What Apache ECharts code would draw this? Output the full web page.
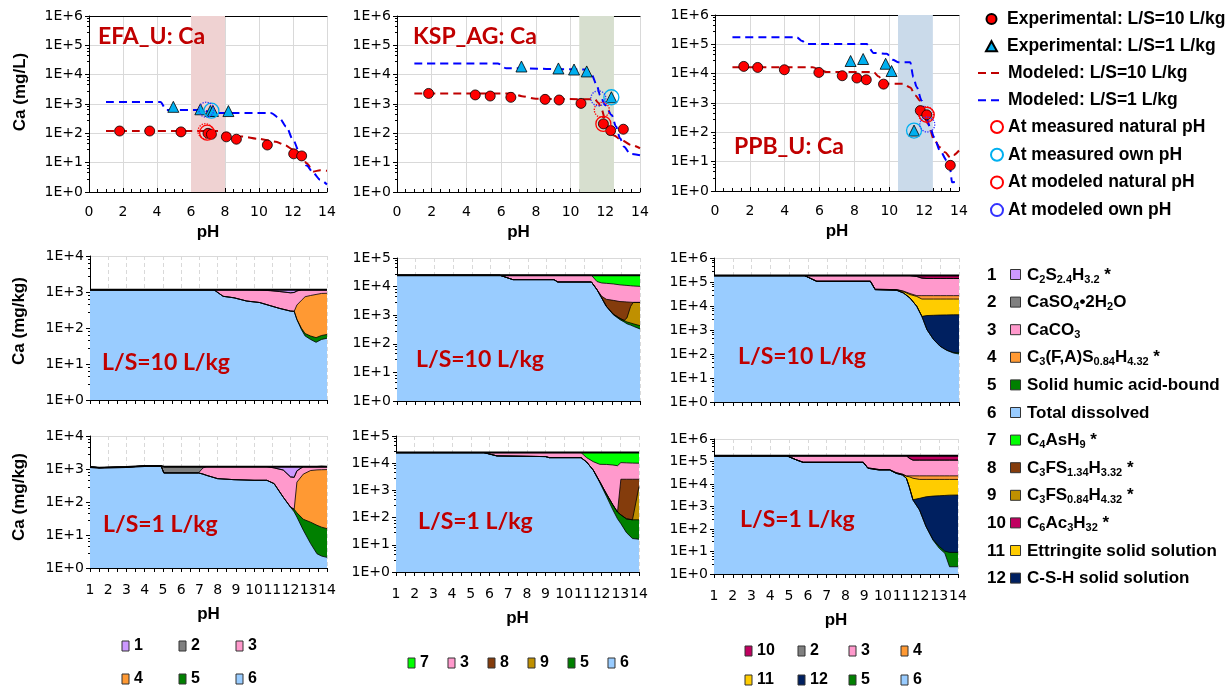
<!DOCTYPE html>
<html>
<head>
<meta charset="utf-8">
<script src="https://cdn.jsdelivr.net/npm/echarts@6/dist/echarts.min.js"></script>
<style>
  html, body { margin: 0; padding: 0; background: #ffffff; }
  #chart { width: 1230px; height: 687px; }
</style>
</head>
<body>
<div id="chart"></div>
<script>
// ---------- Leaching data: Ca concentration (mg/L) vs pH ----------
// EFA_U
const efaExp10pH = [1.8, 3.57, 5.41, 7.0, 7.2, 8.08, 8.67, 10.49, 12.04, 12.51];
const efaExp10Ca = [120, 120, 112, 100, 93, 76, 63, 40, 20, 17];
const efaExp1pH = [4.96, 6.55, 7.14, 7.29, 8.2];
const efaExp1Ca = [800, 660, 580, 580, 575];
const efaMod10pH = [1, 7.6, 8.0, 9.0, 10.0, 10.5, 11.0, 11.5, 12.0, 12.5, 12.8, 13.2, 13.6, 14];
const efaMod10Ca = [120, 120, 95, 78, 65, 58, 52, 40, 28, 20, 9.5, 5, 5.5, 5.3];
const efaMod1pH = [1, 4.2, 4.55, 6.6, 7.3, 10.7, 11.2, 11.6, 12.0, 12.4, 12.8, 13.2, 13.6, 14];
const efaMod1Ca = [1170, 1170, 630, 630, 490, 490, 330, 170, 60, 21, 8, 4.4, 2.6, 1.8];
// rings: measured natural, measured own, modeled natural, modeled own
const efaRingPH = [6.95, 7.2, 6.85, 6.9];
const efaRingCa = [105, 590, 118, 640];
const efaBand = [6, 8];

// KSP_AG
const kspExp10pH = [1.82, 4.51, 5.37, 6.56, 8.53, 9.34, 10.6, 11.89, 12.31, 13.04];
const kspExp10Ca = [2290, 2040, 1870, 1690, 1440, 1370, 1050, 210, 124, 138];
const kspExp1pH = [7.17, 9.3, 10.2, 10.93, 12.35];
const kspExp1Ca = [19000, 16300, 15000, 12900, 1700];
const kspMod10pH = [1, 6.6, 7.2, 8.0, 11.4, 11.6, 11.8, 12.0, 12.2, 12.5, 12.9, 13.5, 14];
const kspMod10Ca = [2300, 2300, 1850, 1500, 1450, 1100, 630, 280, 140, 85, 60, 40, 31];
const kspMod1pH = [1, 5.8, 6.3, 10.9, 11.22, 11.51, 11.7, 11.99, 12.37, 12.62, 12.85, 13.08, 13.43, 14];
const kspMod1Ca = [24000, 24000, 16500, 15000, 9800, 4400, 2000, 930, 420, 170, 68, 35, 20, 18];
const kspRingPH = [11.89, 12.35, 11.8, 11.6];
const kspRingCa = [210, 1700, 630, 1560];
const kspBand = [10.5, 12.5];

// PPB_U
const ppbExp10pH = [1.65, 2.45, 3.98, 5.96, 7.3, 8.14, 8.68, 9.67, 11.78, 12.15, 13.5];
const ppbExp10Ca = [17700, 16300, 13600, 11000, 8500, 7100, 6200, 4400, 550, 395, 7.5];
const ppbExp1pH = [7.78, 8.5, 9.79, 10.13, 11.42];
const ppbExp1Ca = [27000, 31600, 21800, 12300, 115];
const ppbMod10pH = [1, 5.6, 6.1, 6.4, 9.1, 9.4, 9.65, 10.8, 11.2, 11.5, 11.76, 11.95, 12.2, 12.6, 12.9, 13.2, 13.5, 13.7, 14];
const ppbMod10Ca = [16500, 16500, 12900, 11300, 11300, 8000, 4500, 4500, 3400, 1800, 1200, 420, 200, 52, 31, 21, 14, 17, 24];
const ppbMod1pH = [1, 4.7, 5.0, 5.25, 8.7, 9.1, 9.85, 10.2, 10.5, 11.2, 11.38, 11.57, 11.86, 12.1, 12.34, 12.57, 12.91, 13.3, 13.49, 13.6, 14];
const ppbMod1Ca = [173000, 173000, 130000, 102000, 102000, 51000, 48000, 30000, 24700, 24700, 7600, 3540, 1200, 370, 150, 68, 24, 11, 5.6, 2, 2.1];
const ppbRingPH = [12.15, 11.42, 12.1, 12.18];
const ppbRingCa = [395, 115, 420, 185];
const ppbBand = [10.5, 12.5];

// ---------- Modeled Ca speciation (mg/kg) vs pH, per phase ----------
// EFA_U, L/S=10
const efa10pH = [1, 4, 7.8, 8.3, 8.9, 9.6, 10.3, 10.9, 11.4, 12.0, 12.2, 12.35, 12.6, 12.8, 13.1, 13.4, 13.7, 14];
const efa10_s6 = [1150, 1150, 1150, 760, 690, 560, 510, 415, 350, 295, 290, 170, 90, 60, 48, 40, 48, 52];
const efa10_s5 = [0, 0, 0, 0, 0, 0, 0, 0, 0, 0, 0, 5, 8, 10, 12, 14, 14, 14];
const efa10_s4 = [0, 0, 0, 0, 0, 0, 0, 0, 0, 0, 0, 260, 490, 670, 740, 800, 850, 855];
const efa10_s3 = [0, 0, 0, 390, 460, 590, 620, 675, 680, 655, 680, 635, 562, 410, 350, 296, 238, 229];
const efa10_s2 = [0, 0, 0, 0, 0, 0, 0, 0, 0, 0, 0, 0, 0, 0, 0, 0, 0, 0];
const efa10_s1 = [0, 0, 0, 0, 0, 0, 20, 60, 120, 200, 180, 80, 0, 0, 0, 0, 0, 0];

// EFA_U, L/S=1
const efa1pH = [1, 1.5, 3, 4, 4.9, 5.05, 6.95, 7.2, 7.4, 8, 8.9, 10, 10.7, 11.1, 11.6, 12.0, 12.2, 12.35, 12.7, 13.1, 13.45, 13.7, 14];
const efa1_s6 = [1150, 1100, 1150, 1230, 1230, 760, 760, 700, 640, 510, 475, 455, 455, 360, 140, 70, 50, 35, 14, 5.5, 2.7, 2.3, 2.1];
const efa1_s5 = [0, 0, 0, 0, 0, 0, 0, 0, 0, 0, 0, 0, 0, 0, 0, 0, 10, 12, 16, 19, 17, 15, 13.5];
const efa1_s4 = [0, 0, 0, 0, 0, 0, 0, 0, 0, 0, 0, 0, 0, 0, 0, 0, 0, 353, 670, 875, 920, 933, 944];
const efa1_s3 = [0, 0, 0, 0, 0, 0, 0, 380, 540, 670, 705, 725, 725, 720, 790, 505, 500, 480, 480, 280, 240, 230, 220];
const efa1_s2 = [0, 0, 0, 0, 0, 420, 420, 100, 0, 0, 0, 0, 0, 0, 0, 0, 0, 0, 0, 0, 0, 0, 0];
const efa1_s1 = [0, 0, 0, 0, 0, 0, 0, 0, 0, 0, 0, 0, 0, 100, 250, 605, 620, 300, 0, 0, 0, 0, 0];

// KSP_AG, L/S=10
const ksp10pH = [1, 6.5, 7.2, 9.4, 9.6, 11.4, 11.7, 11.95, 12.2, 12.57, 12.93, 13.15, 13.3, 13.5, 13.64, 14];
const ksp10_s6 = [25000, 25000, 17500, 17500, 14500, 14500, 7800, 4000, 2040, 1040, 700, 580, 500, 450, 410, 330];
const ksp10_s5 = [0, 0, 0, 0, 0, 0, 0, 0, 0, 50, 70, 75, 80, 85, 90, 100];
const ksp10_s9 = [0, 0, 0, 0, 0, 0, 0, 0, 0, 0, 0, 0, 220, 1500, 2300, 2370];
const ksp10_s8 = [0, 0, 0, 0, 0, 0, 0, 600, 1560, 2210, 2230, 2295, 2100, 810, 0, 0];
const ksp10_s3 = [0, 0, 7500, 7500, 10500, 10500, 7200, 8800, 9400, 9100, 8500, 8250, 8100, 7850, 7700, 7400];
const ksp10_s7 = [0, 0, 0, 0, 0, 0, 10000, 11600, 12000, 12600, 13500, 13800, 14000, 14300, 14500, 14800];

// KSP_AG, L/S=1
const ksp1pH = [1, 5.7, 6.4, 9.0, 9.2, 10.9, 11.2, 11.55, 11.9, 12.26, 12.6, 12.85, 13.03, 13.33, 13.65, 14];
const ksp1_s6 = [24500, 24500, 18500, 17500, 16000, 16000, 11000, 5600, 1950, 600, 194, 90, 60, 28, 17, 16];
const ksp1_s5 = [0, 0, 0, 0, 0, 0, 0, 0, 150, 140, 100, 70, 66, 62, 66, 67];
const ksp1_s9 = [0, 0, 0, 0, 0, 0, 0, 0, 0, 0, 0, 0, 0, 0, 0, 1300];
const ksp1_s8 = [0, 0, 0, 0, 0, 0, 0, 0, 0, 0, 0, 0, 2444, 2480, 2487, 1190];
const ksp1_s3 = [0, 0, 6000, 7000, 8500, 8500, 5000, 5800, 7000, 8260, 8300, 7940, 7930, 7730, 7530, 7430];
const ksp1_s7 = [0, 0, 0, 0, 0, 0, 8500, 13100, 15400, 15500, 15900, 16400, 14000, 14200, 14400, 14500];

// PPB_U, L/S=10
const ppb10pH = [1, 5.8, 6.45, 9.3, 9.55, 10.7, 11.05, 11.4, 11.76, 12.03, 12.3, 12.65, 13.0, 13.35, 13.7, 14];
const ppb10_s6 = [185000, 185000, 107000, 107000, 48000, 45000, 35000, 21500, 9700, 3700, 1030, 400, 210, 142, 110, 100];
const ppb10_s5 = [0, 0, 0, 0, 0, 0, 0, 0, 0, 0, 0, 0, 0, 2, 6, 12];
const ppb10_s12 = [0, 0, 0, 0, 0, 0, 0, 0, 0, 0, 2970, 3700, 3990, 4106, 4184, 4188];
const ppb10_s11 = [0, 0, 0, 0, 2000, 3000, 5000, 8500, 15300, 15800, 15500, 15400, 15300, 15250, 15200, 15200];
const ppb10_s4 = [0, 0, 0, 0, 0, 0, 2000, 3000, 2000, 7500, 7500, 7500, 7500, 7500, 7500, 7500];
const ppb10_s3 = [0, 0, 78000, 78000, 135000, 137000, 143000, 152000, 143000, 118000, 113000, 113000, 113000, 113000, 113000, 113000];
const ppb10_s2 = [0, 0, 0, 0, 0, 0, 0, 0, 0, 0, 0, 0, 0, 0, 0, 0];
const ppb10_s10 = [0, 0, 0, 0, 0, 0, 0, 0, 15000, 40000, 45000, 45000, 45000, 45000, 45000, 45000];

// PPB_U, L/S=1
const ppb1pH = [1, 4.87, 5.4, 5.75, 8.95, 9.2, 9.8, 10.35, 10.7, 11.05, 11.25, 11.4, 11.6, 11.95, 12.3, 12.67, 13.0, 13.3, 13.55, 14];
const ppb1_s6 = [180000, 180000, 117000, 92000, 92000, 50000, 42000, 42000, 30000, 25000, 18000, 7600, 1940, 700, 127, 32, 14, 8.3, 2.1, 2.1];
const ppb1_s5 = [0, 0, 0, 0, 0, 0, 0, 0, 0, 0, 0, 0, 0, 0, 0, 2, 3, 2, 7, 7];
const ppb1_s12 = [0, 0, 0, 0, 0, 0, 0, 0, 0, 0, 0, 0, 60, 1600, 2570, 2866, 2983, 3090, 3190, 3230];
const ppb1_s11 = [0, 0, 0, 0, 0, 2000, 2000, 2000, 2000, 2000, 4000, 13400, 16000, 13700, 13300, 13100, 13000, 12900, 12800, 12760];
const ppb1_s4 = [0, 0, 0, 0, 0, 0, 0, 0, 0, 0, 1000, 2000, 5000, 7000, 7000, 7000, 7000, 7000, 7000, 7000];
const ppb1_s3 = [0, 0, 63000, 88000, 88000, 128000, 136000, 136000, 148000, 153000, 157000, 117000, 92000, 92000, 92000, 92000, 92000, 92000, 92000, 92000];
const ppb1_s2 = [0, 0, 0, 0, 0, 0, 0, 0, 0, 0, 0, 0, 0, 0, 0, 0, 0, 0, 0, 0];
const ppb1_s10 = [0, 0, 0, 0, 0, 0, 0, 0, 0, 0, 0, 40000, 65000, 65000, 65000, 65000, 65000, 65000, 65000, 65000];

// Ca phases (legend numbers, colours, formula labels with subscripts)
const phaseColors = {
  '1': '#CC99FF', '2': '#808080', '3': '#FF99CC', '4': '#FF9933',
  '5': '#008000', '6': '#99CCFF', '7': '#00FF00', '8': '#843C0C',
  '9': '#BF9000', '10': '#C00060', '11': '#FFCC00', '12': '#002060'
};
const phaseLabels = [
  'C{s|2}S{s|2.4}H{s|3.2} *',
  'CaSO{s|4}\u20222H{s|2}O',
  'CaCO{s|3}',
  'C{s|3}(F,A)S{s|0.84}H{s|4.32} *',
  'Solid humic acid-bound',
  'Total dissolved',
  'C{s|4}AsH{s|9} *',
  'C{s|3}FS{s|1.34}H{s|3.32} *',
  'C{s|3}FS{s|0.84}H{s|4.32} *',
  'C{s|6}Ac{s|3}H{s|32} *',
  'Ettringite solid solution',
  'C-S-H solid solution'
];

// ---------- helpers ----------
const TICK_FONT = 'DejaVu Sans';
const BOLD_FONT = 'Liberation Sans';
const TITLE_FONT = 'Lato';
const pairs = (xs, ys) => xs.map((x, i) => [x, ys[i]]);
const expLabel = v => '1E+' + Math.round(Math.log10(v));

const grids = [
  { left: 89, top: 16, width: 238, height: 176 },
  { left: 397, top: 16, width: 243, height: 176 },
  { left: 715, top: 15, width: 244, height: 176 },
  { left: 90, top: 256, width: 237, height: 144 },
  { left: 397, top: 258, width: 243, height: 143 },
  { left: 714, top: 258, width: 245, height: 144 },
  { left: 90, top: 436, width: 237, height: 132 },
  { left: 396, top: 436, width: 243, height: 136 },
  { left: 714, top: 439, width: 244, height: 135 }
];
const yMax = [1e6, 1e6, 1e6, 1e4, 1e5, 1e6, 1e4, 1e5, 1e6];

const xAxes = [];
const yAxes = [];
grids.forEach((g, i) => {
  const isTop = i < 3;
  const isBottom = i >= 6;
  xAxes.push({
    type: 'value', gridIndex: i,
    min: isTop ? 0 : 1, max: 14, interval: isTop ? 2 : 1,
    name: (isTop || isBottom) ? 'pH' : '',
    nameLocation: 'middle', nameGap: isTop ? 32 : 38,
    nameTextStyle: { fontFamily: BOLD_FONT, fontWeight: 'bold', fontSize: 17, color: '#000' },
    axisLine: { show: true, onZero: false, lineStyle: { color: '#000', width: 1 } },
    axisTick: { show: true, inside: isTop, length: 4, lineStyle: { color: '#000' } },
    minorTick: { show: true, splitNumber: isTop ? 4 : 2, length: isTop ? 3 : 4, lineStyle: { color: '#000' } },
    axisLabel: { show: isTop || isBottom, fontFamily: TICK_FONT, fontSize: 14, color: '#000', margin: isTop ? 13 : 15 },
    splitLine: { show: true, lineStyle: { color: '#D9D9D9', width: 1, type: isTop ? 'solid' : [4, 3] } }
  });
  yAxes.push({
    type: 'log', logBase: 10, gridIndex: i, min: 1, max: yMax[i],
    axisLine: { show: true, onZero: false, lineStyle: { color: '#000', width: 1 } },
    axisTick: { show: true, length: 4, lineStyle: { color: '#000' } },
    minorTick: { show: true, splitNumber: 5, length: 2, lineStyle: { color: '#000' } },
    axisLabel: { fontFamily: TICK_FONT, fontSize: 14, color: '#000', margin: 6, formatter: expLabel },
    splitLine: { show: true, lineStyle: { color: '#D9D9D9', width: 1 } }
  });
});
// top frame line of the leaching panels
[0, 1, 2].forEach(i => {
  xAxes.push({
    type: 'value', gridIndex: i, position: 'top', min: 0, max: 14,
    axisLine: { show: true, onZero: false, lineStyle: { color: '#000', width: 1 } },
    axisTick: { show: false }, axisLabel: { show: false }, splitLine: { show: false }
  });
});

const series = [];
const RING_NAMES = ['At measured natural pH', 'At measured own pH', 'At modeled natural pH', 'At modeled own pH'];
const RING_COLORS = ['#FF0000', '#00B0F0', '#FF0000', '#3333FF'];
const RING_TYPES = ['solid', 'solid', 'dotted', 'dotted'];

function leachPanel(gi, d) {
  series.push({
    type: 'line', name: 'Modeled: L/S=10 L/kg', xAxisIndex: gi, yAxisIndex: gi,
    data: pairs(d.m10pH, d.m10Ca), symbol: 'none', showSymbol: false,
    smooth: 0.3, smoothMonotone: 'x', z: 3,
    itemStyle: { color: '#C00000' },
    lineStyle: { color: '#C00000', width: 2, type: [8, 5] },
    markArea: {
      silent: true,
      itemStyle: { color: d.bandColor },
      data: [[{ xAxis: d.band[0] }, { xAxis: d.band[1] }]]
    }
  });
  series.push({
    type: 'line', name: 'Modeled: L/S=1 L/kg', xAxisIndex: gi, yAxisIndex: gi,
    data: pairs(d.m1pH, d.m1Ca), symbol: 'none', showSymbol: false,
    smooth: 0.3, smoothMonotone: 'x', z: 3,
    itemStyle: { color: '#0000FF' },
    lineStyle: { color: '#0000FF', width: 2, type: [8, 5] }
  });
  series.push({
    type: 'scatter', name: 'Experimental: L/S=10 L/kg', xAxisIndex: gi, yAxisIndex: gi,
    data: pairs(d.e10pH, d.e10Ca), symbol: 'circle', symbolSize: 10, z: 5,
    itemStyle: { color: '#FF0000', borderColor: '#000', borderWidth: 0.8, opacity: 1 }
  });
  series.push({
    type: 'scatter', name: 'Experimental: L/S=1 L/kg', xAxisIndex: gi, yAxisIndex: gi,
    data: pairs(d.e1pH, d.e1Ca), symbol: 'triangle', symbolSize: 11, z: 5,
    itemStyle: { color: '#00B0F0', borderColor: '#000', borderWidth: 0.8, opacity: 1 }
  });
  RING_NAMES.forEach((nm, k) => {
    series.push({
      type: 'scatter', name: nm, xAxisIndex: gi, yAxisIndex: gi,
      data: [[d.ringPH[k], d.ringCa[k]]], symbol: 'circle', symbolSize: 15, z: 6,
      itemStyle: { color: 'rgba(0,0,0,0)', borderColor: RING_COLORS[k], borderWidth: 1.3, borderType: RING_TYPES[k], opacity: 1 }
    });
  });
}

leachPanel(0, { e10pH: efaExp10pH, e10Ca: efaExp10Ca, e1pH: efaExp1pH, e1Ca: efaExp1Ca,
  m10pH: efaMod10pH, m10Ca: efaMod10Ca, m1pH: efaMod1pH, m1Ca: efaMod1Ca,
  ringPH: efaRingPH, ringCa: efaRingCa, band: efaBand, bandColor: '#EFD2D2' });
leachPanel(1, { e10pH: kspExp10pH, e10Ca: kspExp10Ca, e1pH: kspExp1pH, e1Ca: kspExp1Ca,
  m10pH: kspMod10pH, m10Ca: kspMod10Ca, m1pH: kspMod1pH, m1Ca: kspMod1Ca,
  ringPH: kspRingPH, ringCa: kspRingCa, band: kspBand, bandColor: '#D7DFCF' });
leachPanel(2, { e10pH: ppbExp10pH, e10Ca: ppbExp10Ca, e1pH: ppbExp1pH, e1Ca: ppbExp1Ca,
  m10pH: ppbMod10pH, m10Ca: ppbMod10Ca, m1pH: ppbMod1pH, m1Ca: ppbMod1Ca,
  ringPH: ppbRingPH, ringCa: ppbRingCa, band: ppbBand, bandColor: '#CADAEA' });

// Stacked speciation panels. Layers are listed from bottom to top; each layer is
// drawn as a filled area up to its cumulative total, upper layers first so that
// the lower ones paint over them (keeps the stacking exact on the log axis).
function speciationPanel(gi, pH, layers) {
  const tops = [];
  let acc = pH.map(() => 0);
  layers.forEach(ly => {
    acc = acc.map((a, i) => a + ly[1][i]);
    tops.push(acc);
  });
  for (let k = layers.length - 1; k >= 0; k--) {
    const name = layers[k][0];
    series.push({
      type: 'line', name: name, xAxisIndex: gi, yAxisIndex: gi,
      data: pairs(pH, tops[k]),
      symbol: 'none', showSymbol: false, z: 2,
      itemStyle: { color: phaseColors[name] },
      lineStyle: { color: '#000', width: k === layers.length - 1 ? 2 : 0.8 },
      areaStyle: { color: phaseColors[name], opacity: 1, origin: 1 },
      emphasis: { disabled: true }
    });
  }
}
speciationPanel(3, efa10pH, [['6', efa10_s6], ['5', efa10_s5], ['4', efa10_s4], ['3', efa10_s3], ['2', efa10_s2], ['1', efa10_s1]]);
speciationPanel(6, efa1pH, [['6', efa1_s6], ['5', efa1_s5], ['4', efa1_s4], ['3', efa1_s3], ['2', efa1_s2], ['1', efa1_s1]]);
speciationPanel(4, ksp10pH, [['6', ksp10_s6], ['5', ksp10_s5], ['9', ksp10_s9], ['8', ksp10_s8], ['3', ksp10_s3], ['7', ksp10_s7]]);
speciationPanel(7, ksp1pH, [['6', ksp1_s6], ['5', ksp1_s5], ['9', ksp1_s9], ['8', ksp1_s8], ['3', ksp1_s3], ['7', ksp1_s7]]);
speciationPanel(5, ppb10pH, [['6', ppb10_s6], ['5', ppb10_s5], ['12', ppb10_s12], ['11', ppb10_s11], ['4', ppb10_s4], ['3', ppb10_s3], ['2', ppb10_s2], ['10', ppb10_s10]]);
speciationPanel(8, ppb1pH, [['6', ppb1_s6], ['5', ppb1_s5], ['12', ppb1_s12], ['11', ppb1_s11], ['4', ppb1_s4], ['3', ppb1_s3], ['2', ppb1_s2], ['10', ppb1_s10]]);

// ---------- legends ----------
const keyText = { fontFamily: BOLD_FONT, fontWeight: 'bold', fontSize: 17.5, color: '#000', lineHeight: 20 };
const numText = { fontFamily: BOLD_FONT, fontWeight: 'bold', fontSize: 16, color: '#000', lineHeight: 14 };
// one column of numbered phase keys under a speciation panel
const numColumn = (names, left, top, rowGap) => ({
  data: names, left: left, top: top, height: 80, orient: 'vertical', padding: 0,
  icon: 'rect', itemWidth: 7, itemHeight: 10, itemGap: rowGap, selectedMode: false,
  itemStyle: { borderColor: '#333', borderWidth: 1 },
  textStyle: numText
});
const legends = [
  {
    data: ['Experimental: L/S=10 L/kg', 'Experimental: L/S=1 L/kg'],
    orient: 'vertical', left: 985, top: 9, padding: 0, itemWidth: 11, itemHeight: 10, itemGap: 7.2, selectedMode: false,
    textStyle: Object.assign({ padding: [0, 0, 0, 5] }, keyText)
  },
  {
    data: ['Modeled: L/S=10 L/kg', 'Modeled: L/S=1 L/kg'],
    orient: 'vertical', left: 977, top: 63, padding: 0, itemWidth: 25, itemHeight: 10, itemGap: 7.2, selectedMode: false,
    itemStyle: { color: 'rgba(0,0,0,0)', borderWidth: 0, borderColor: 'rgba(0,0,0,0)' },
    textStyle: keyText
  },
  {
    data: ['At measured natural pH', 'At measured own pH', 'At modeled natural pH', 'At modeled own pH'],
    orient: 'vertical', left: 990, top: 117, padding: 0, itemWidth: 12, itemHeight: 12, itemGap: 7.7, selectedMode: false,
    textStyle: keyText
  },
  // EFA_U key (two rows)
  numColumn(['1', '4'], 121.5, 638, 17),
  numColumn(['2', '5'], 178.5, 638, 17),
  numColumn(['3', '6'], 235.5, 638, 17),
  // KSP_AG key (single row)
  {
    data: ['7', '3', '8', '9', '5', '6'], left: 407.5, top: 655, orient: 'horizontal', padding: 0,
    icon: 'rect', itemWidth: 7, itemHeight: 10, itemGap: 18.6, selectedMode: false,
    itemStyle: { borderColor: '#333', borderWidth: 1 },
    textStyle: numText
  },
  // PPB_U key (two rows)
  numColumn(['10', '11'], 744.5, 643, 13),
  numColumn(['2', '12'], 797.5, 643, 13),
  numColumn(['3', '5'], 848.5, 643, 13),
  numColumn(['4', '6'], 900.5, 643, 13)
];

// ---------- text decorations ----------
const graphic = [];
const titleStyle = (txt, x, y) => ({
  type: 'text', silent: true, z: 100,
  style: { text: txt, x: x, y: y, align: 'left', verticalAlign: 'middle',
    fontFamily: TITLE_FONT, fontWeight: 'bold', fontSize: 23, fill: '#C00000' }
});
graphic.push(titleStyle('EFA_U: Ca', 98, 37));
graphic.push(titleStyle('KSP_AG: Ca', 413, 37));
graphic.push(titleStyle('PPB_U: Ca', 734, 147));
graphic.push(titleStyle('L/S=10 L/kg', 102, 363));
graphic.push(titleStyle('L/S=10 L/kg', 416, 360));
graphic.push(titleStyle('L/S=10 L/kg', 738, 357));
graphic.push(titleStyle('L/S=1 L/kg', 103, 525));
graphic.push(titleStyle('L/S=1 L/kg', 418, 522));
graphic.push(titleStyle('L/S=1 L/kg', 740, 520));

const yTitle = (txt, x, y) => ({
  type: 'text', silent: true, z: 100, x: x, y: y, rotation: Math.PI / 2,
  style: { text: txt, x: 0, y: 0, align: 'center', verticalAlign: 'middle',
    fontFamily: BOLD_FONT, fontWeight: 'bold', fontSize: 17, fill: '#000' }
});
graphic.push(yTitle('Ca (mg/L)', 20, 92));
graphic.push(yTitle('Ca (mg/kg)', 19, 321));
graphic.push(yTitle('Ca (mg/kg)', 19, 497));

// phase key
phaseLabels.forEach((lab, i) => {
  const y = 275 + i * 27.6;
  const num = String(i + 1);
  graphic.push({
    type: 'text', silent: true, z: 100,
    style: { text: num, x: 987, y: y, align: 'left', verticalAlign: 'middle',
      fontFamily: BOLD_FONT, fontWeight: 'bold', fontSize: 17, fill: '#000' }
  });
  graphic.push({
    type: 'rect', silent: true, z: 100,
    shape: { x: 1010.5, y: y - 5.5, width: 10, height: 10 },
    style: { fill: phaseColors[num], stroke: '#333', lineWidth: 1 }
  });
  graphic.push({
    type: 'text', silent: true, z: 100,
    style: { text: lab, x: 1027, y: y, align: 'left', verticalAlign: 'middle',
      fontFamily: BOLD_FONT, fontWeight: 'bold', fontSize: 17, fill: '#000', lineHeight: 20,
      rich: { s: { fontFamily: BOLD_FONT, fontWeight: 'bold', fontSize: 11, lineHeight: 12, verticalAlign: 'bottom', fill: '#000' } } }
  });
});

const chart = echarts.init(document.getElementById('chart'), null, { renderer: 'canvas' });
chart.setOption({
  animation: false,
  backgroundColor: '#ffffff',
  grid: grids,
  xAxis: xAxes,
  yAxis: yAxes,
  legend: legends,
  series: series,
  graphic: graphic
});
</script>
</body>
</html>
